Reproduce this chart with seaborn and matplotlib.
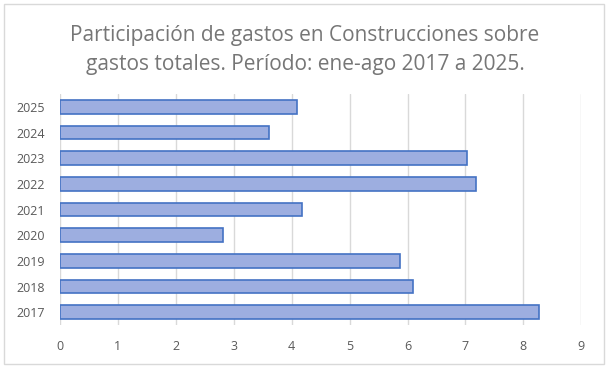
import matplotlib
matplotlib.use("Agg")
import matplotlib.pyplot as plt
import seaborn as sns
import pandas as pd
from matplotlib.patches import Rectangle

years = ["2025", "2024", "2023", "2022", "2021", "2020", "2019", "2018", "2017"]
values = [4.09, 3.60, 7.02, 7.18, 4.17, 2.81, 5.87, 6.09, 8.27]
xticks = [0, 1, 2, 3, 4, 5, 6, 7, 8, 9]
title = "Participación de gastos en Construcciones sobre\ngastos totales. Período: ene-ago 2017 a 2025."

sns.set_theme(style="white")
plt.rcParams["font.family"] = ["Open Sans", "DejaVu Sans"]

df = pd.DataFrame({"year": years, "value": values})

W, H = 610, 371
fig = plt.figure(figsize=(W / 100, H / 100), dpi=100)
ax = fig.add_axes([60 / W, (H - 325) / H, (581.3 - 60) / W, (325 - 94) / H])

sns.barplot(data=df, y="year", x="value", order=years, orient="h",
            color="#9DAEE0", edgecolor="#4472C4", linewidth=1.2,
            width=0.52, ax=ax, saturation=1)

ax.set_xlim(0, 9)
ax.set_ylim(len(years) - 0.5, -0.5)
ax.set_xticks(xticks)
ax.set_xticklabels([str(t) for t in xticks])
ax.set_xlabel("")
ax.set_ylabel("")
ax.grid(axis="x", color="#D9D9D9", linewidth=1)
ax.set_axisbelow(True)
for s in ax.spines.values():
    s.set_visible(False)
ax.tick_params(axis="both", length=0, colors="#595959", labelsize=9)
ax.tick_params(axis="y", pad=11)
ax.tick_params(axis="x", pad=11)

fig.text(0.5, (H - 50) / H, title, ha="center", va="center",
         fontsize=15, color="#767676", linespacing=1.45)

fig.patches.append(Rectangle((4 / W, (H - 364) / H), 600 / W, 360 / H,
                             transform=fig.transFigure, fill=False,
                             edgecolor="#D9D9D9", linewidth=1))

fig.savefig("out.png", dpi=100)
